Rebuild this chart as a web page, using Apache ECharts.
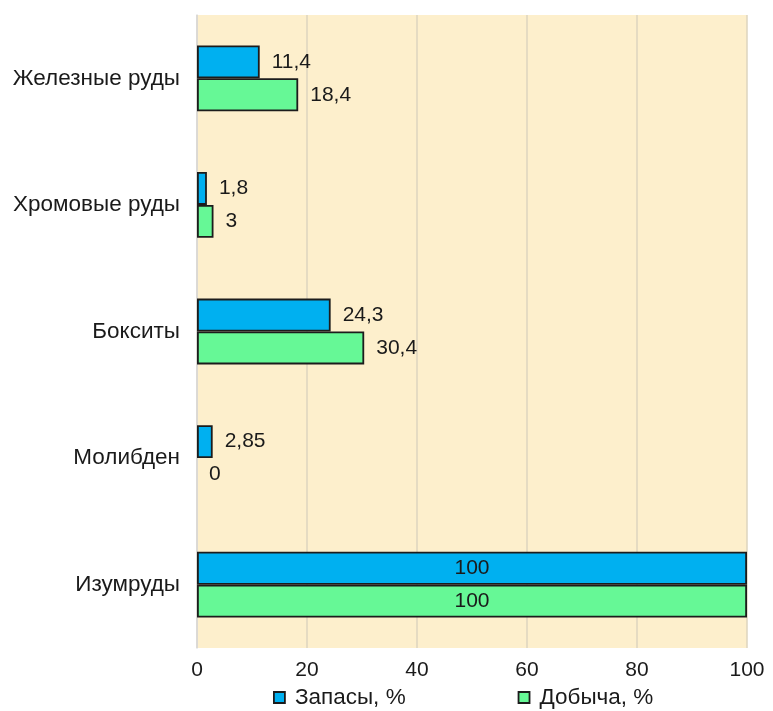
<!DOCTYPE html>
<html>
<head>
<meta charset="utf-8">
<script src="https://cdn.jsdelivr.net/npm/echarts@6/dist/echarts.min.js"></script>
<style>
  html, body { margin: 0; padding: 0; background: #ffffff; }
  #chart { width: 773px; height: 711px; }
</style>
</head>
<body>
<div id="chart"></div>
<script>
// Resource categories, listed top to bottom
const categories = ['Железные руды', 'Хромовые руды', 'Бокситы', 'Молибден', 'Изумруды'];
// Share of reserves and of production, %
const reserves = [11.4, 1.8, 24.3, 2.85, 100];
const production = [18.4, 3, 30.4, 0, 100];
const seriesNames = ['Запасы, %', 'Добыча, %'];
const xTicks = { min: 0, max: 100, interval: 20 };

const FONT = '"Liberation Sans", Arial, sans-serif';
const FS_NUM = 21;    // value labels and axis ticks
const FS_TEXT = 22.5; // category names and legend
const fmt = v => String(v).replace('.', ',');

function barData(values) {
  return values.map(v => {
    const item = { value: v };
    if (v >= 100) {
      item.label = { position: 'inside', distance: 0 };
    }
    if (v === 0) {
      item.itemStyle = { borderWidth: 0 };
    }
    return item;
  });
}

function makeSeries(name, values, color) {
  return {
    name: name,
    type: 'bar',
    data: barData(values),
    barGap: '0%',
    barCategoryGap: '48%',
    itemStyle: { color: color, borderColor: '#1c1c1c', borderWidth: 1.8 },
    label: {
      show: true,
      position: 'right',
      distance: 12,
      fontFamily: FONT,
      fontSize: FS_NUM,
      color: '#1a1a1a',
      formatter: p => fmt(p.value)
    }
  };
}

const chart = echarts.init(document.getElementById('chart'), null, { renderer: 'canvas' });
chart.setOption({
  animation: false,
  backgroundColor: '#ffffff',
  textStyle: { fontFamily: FONT },
  grid: {
    left: 197, right: 26, top: 15, bottom: 63,
    show: true, backgroundColor: '#fdefcc', borderWidth: 0
  },
  legend: {
    left: 273, top: 686, padding: 0,
    itemWidth: 11, itemHeight: 11, itemGap: 112,
    icon: 'rect',
    textStyle: { fontFamily: FONT, fontSize: FS_TEXT, color: '#1a1a1a', padding: [0, 0, 0, 5] },
    data: seriesNames.map(n => ({ name: n, itemStyle: { borderColor: '#1c1c1c', borderWidth: 1.8 } }))
  },
  xAxis: {
    type: 'value',
    min: xTicks.min, max: xTicks.max, interval: xTicks.interval,
    axisLine: { show: false },
    axisTick: { show: false },
    axisLabel: { fontFamily: FONT, fontSize: FS_NUM, color: '#1a1a1a', margin: 12 },
    splitLine: { show: true, lineStyle: { color: '#ddd4bf', width: 1.5 } }
  },
  yAxis: {
    type: 'category',
    inverse: true,
    data: categories,
    axisLine: { show: true, lineStyle: { color: '#d9d9d9', width: 1.5 } },
    axisTick: { show: false },
    axisLabel: { fontFamily: FONT, fontSize: FS_TEXT, color: '#1a1a1a', margin: 17 }
  },
  series: [
    makeSeries(seriesNames[0], reserves, '#00b0f0'),
    makeSeries(seriesNames[1], production, '#66f896')
  ]
});
</script>
</body>
</html>
